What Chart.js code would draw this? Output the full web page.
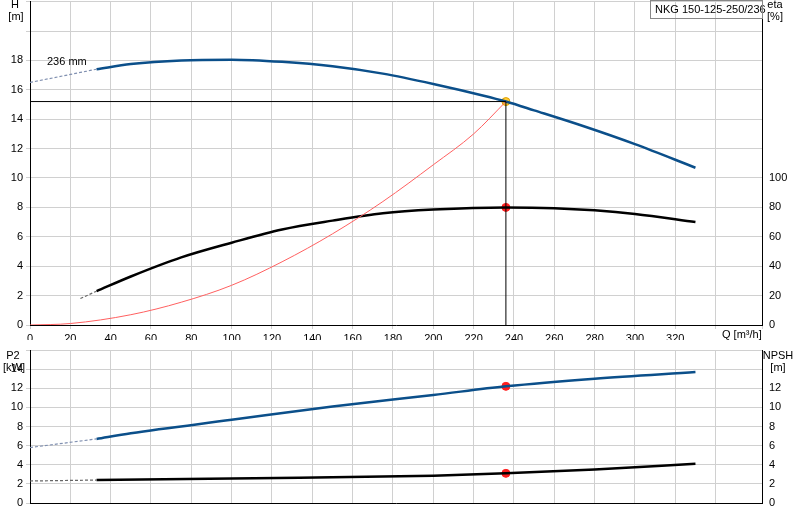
<!DOCTYPE html>
<html><head><script src="https://cdn.jsdelivr.net/npm/chart.js@4"></script>
<style>body{margin:0;background:#fff;overflow:hidden}#a{position:absolute;left:0;top:-8px}#b{position:absolute;left:0;top:340px}</style></head>
<body><canvas id="a" width="800" height="348"></canvas><canvas id="b" width="800" height="180"></canvas>
<script>
const hQ=[33,50,75,100,125,150,175,200,225,236,250,275,300,330];
const hV=[17.4,17.75,18.0,18.05,17.9,17.6,17.1,16.4,15.6,15.2,14.6,13.5,12.3,10.7];
const hDashQ=[0,33], hDashV=[16.5,17.4];
const etaQ=[33,50,75,100,125,150,175,200,236,260,280,300,330];
const etaV=[23,33,46,56,65,71,76,78.5,80,79.5,78,75.5,70];
const etaDashQ=[25,33], etaDashV=[18,23];
const sysQ=[0,20,50,75,100,125,150,175,200,220,236];
const sysV=[0,0.1,0.7,1.55,2.7,4.3,6.2,8.4,10.9,13.0,15.2];
const dutyQ=236, dutyH=15.2, dutyEta=80, dutyP2=12.2, dutyNPSH=3.1;
const p2Q=[33,50,100,150,200,236,280,330], p2V=[6.7,7.3,8.7,10.1,11.3,12.2,13.0,13.7];
const p2DashQ=[0,33], p2DashV=[5.8,6.7];
const npQ=[33,100,150,200,236,280,330], npV=[2.4,2.55,2.7,2.85,3.1,3.5,4.1];
const npDashQ=[0,33], npDashV=[2.3,2.4];
const xyz=(q,v)=>q.map((x,i)=>({x,y:v[i]}));
const blue='#0b4f8a', grid='#d0d0d0';
const F='11px "Liberation Sans", Arial, sans-serif';
Chart.defaults.font.family='"Liberation Sans", Arial, sans-serif';Chart.defaults.font.size=11;Chart.defaults.color='#000';
const ln=(d,c,w,ax,dash)=>({type:'line',data:d,borderColor:c,borderWidth:w,pointRadius:0,yAxisID:ax,borderDash:dash||[],tension:0.4,cubicInterpolationMode:'monotone'});
const pt=(d,c,ax)=>({type:'scatter',data:d,backgroundColor:c,borderColor:c==='#ffcc33'?'#e0a000':c,pointRadius:4,yAxisID:ax});
const txt={id:'txt',afterDraw(c,a,o){const g=c.ctx;g.save();g.font=F;g.fillStyle='#000';(o.items||[]).forEach(t=>{g.textAlign=t[3]||'left';g.fillText(t[0],t[1],t[2]);});
 if(o.box){g.strokeStyle='#888';g.strokeRect(650.5,8.5,112,18);}g.restore();}};
const fitW=w=>s=>{s.width=w};
new Chart(document.getElementById('a'),{data:{datasets:[
 {type:'line',data:[{x:0,y:dutyH},{x:dutyQ,y:dutyH}],borderColor:'#000',borderWidth:1,pointRadius:0,yAxisID:'y'},
 {type:'line',data:[{x:dutyQ,y:0},{x:dutyQ,y:dutyH}],borderColor:'#000',borderWidth:1,pointRadius:0,yAxisID:'y'},
 ln(xyz(sysQ,sysV),'#ff6060',1,'y'),
 ln(xyz(hDashQ,hDashV),'#8090b0',1.2,'y',[3,2]),
 ln(xyz(hQ,hV),blue,2.5,'y'),
 ln(xyz(etaDashQ,etaDashV),'#666',1.2,'e',[3,2]),
 ln(xyz(etaQ,etaV),'#000',2.5,'e'),
 pt([{x:dutyQ,y:dutyH}],'#ffcc33','y'),
 pt([{x:dutyQ,y:dutyEta}],'#ff2020','e')]},
 options:{animation:false,responsive:false,layout:{padding:{top:0,right:0}},plugins:{legend:{display:false},tooltip:{enabled:false},
  txt:{box:true,items:[['NKG 150-125-250/236',655,21],['H',15,16,'center'],['[m]',16,28,'center'],['eta',775,16,'center'],['[%]',775,28,'center'],['236 mm',47,73],['Q [m³/h]',722,346]]}},
  scales:{x:{type:'linear',min:0,max:363,ticks:{stepSize:20,autoSkip:false,callback:v=>v<=320?v:''},grid:{color:grid,tickLength:4},border:{color:'#000'},afterFit:s=>{s.height=15}},
   y:{position:'left',min:0,max:22,ticks:{stepSize:2,callback:v=>v<=18?v:''},grid:{color:grid,tickLength:4},border:{color:'#000'},afterFit:fitW(30)},
   e:{position:'right',min:0,max:220,ticks:{stepSize:20,callback:v=>v<=100?v:''},grid:{display:false,tickLength:4},border:{color:'#000'},afterFit:fitW(38)}}},
 plugins:[txt]});
new Chart(document.getElementById('b'),{data:{datasets:[
 ln(xyz(p2DashQ,p2DashV),'#8090b0',1.2,'y',[3,2]),
 ln(xyz(p2Q,p2V),blue,2.5,'y'),
 ln(xyz(npDashQ,npDashV),'#666',1.2,'n',[3,2]),
 ln(xyz(npQ,npV),'#000',2.5,'n'),
 pt([{x:dutyQ,y:dutyP2}],'#ff2020','y'),
 pt([{x:dutyQ,y:dutyNPSH}],'#ff2020','n')]},
 options:{animation:false,responsive:false,layout:{padding:{top:10}},plugins:{legend:{display:false},tooltip:{enabled:false},
  txt:{items:[['P2',13,19,'center'],['[kW]',14,31,'center'],['NPSH',778,19,'center'],['[m]',778,31,'center']]}},
  scales:{x:{type:'linear',min:0,max:363,ticks:{display:false,stepSize:20},grid:{color:grid,tickLength:0},border:{color:'#000'},afterFit:s=>{s.height=17}},
   y:{position:'left',min:0,max:16,ticks:{stepSize:2,callback:v=>v<=14?v:''},grid:{color:grid,tickLength:4},border:{color:'#000'},afterFit:fitW(30)},
   n:{position:'right',min:0,max:16,ticks:{stepSize:2,callback:v=>v<=12?v:''},grid:{display:false,tickLength:4},border:{color:'#000'},afterFit:fitW(38)}}},
 plugins:[txt]});
</script></body></html>
